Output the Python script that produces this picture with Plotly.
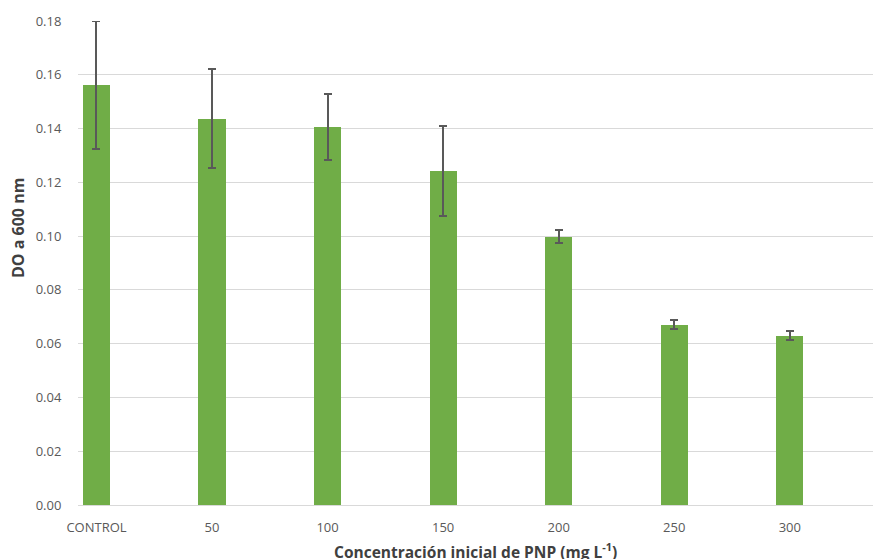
import plotly.graph_objects as go

categories = ["CONTROL", "50", "100", "150", "200", "250", "300"]
do_values = [0.1562, 0.1437, 0.1406, 0.1242, 0.0998, 0.0670, 0.0630]
do_errors = [0.0238, 0.0183, 0.0122, 0.0167, 0.0025, 0.0017, 0.0017]
y_ticks = [0, 0.02, 0.04, 0.06, 0.08, 0.10, 0.12, 0.14, 0.16, 0.18]

x_title = "<b>Concentración inicial de PNP (mg L<sup>-1</sup>)</b>"
y_title = "<b>DO a 600 nm</b>"

fig = go.Figure()
fig.add_trace(go.Bar(
    x=list(range(len(categories))),
    y=do_values,
    width=0.235,
    marker=dict(color="#70AD47", line=dict(width=0)),
    error_y=dict(type="data", array=do_errors, visible=True,
                 color="#595959", thickness=2, width=4),
    cliponaxis=False,
))

fig.update_layout(
    width=873, height=559,
    margin=dict(l=78, r=0, t=21, b=54, autoexpand=False),
    paper_bgcolor="white", plot_bgcolor="white",
    showlegend=False,
    font=dict(family="Open Sans", color="#595959", size=12),
    bargap=0,
    annotations=[
        dict(text=x_title, xref="paper", yref="paper", x=0.5, y=0,
             xanchor="center", yanchor="middle", yshift=-46, showarrow=False,
             font=dict(size=15.5, color="#404040", family="Open Sans")),
        dict(text=y_title, xref="paper", yref="paper", x=0, y=0.5,
             xanchor="center", yanchor="middle", xshift=-60, yshift=35,
             textangle=-90, showarrow=False,
             font=dict(size=16, color="#404040", family="Open Sans")),
    ],
)
fig.update_xaxes(
    tickmode="array",
    tickvals=list(range(len(categories))),
    ticktext=categories,
    range=[-0.16, 6.72],
    showgrid=False,
    showline=True, linecolor="#d9d9d9", linewidth=1,
    ticks="outside", ticklen=10, tickcolor="rgba(0,0,0,0)",
    tickfont=dict(size=13, color="#595959"),
    zeroline=False,
)
fig.update_yaxes(
    range=[0, 0.18],
    tickmode="array", tickvals=y_ticks,
    tickformat=".2f",
    showgrid=True, gridcolor="#d9d9d9", gridwidth=1,
    zeroline=False,
    ticks="outside", ticklen=13, tickcolor="rgba(0,0,0,0)",
    tickfont=dict(size=13, color="#595959"),
)

fig.write_html(
    "out.html",
    config={"displayModeBar": False},
    post_script="document.body.style.margin='0';"
                "document.body.style.overflow='hidden';"
                "document.documentElement.style.overflow='hidden';",
)
